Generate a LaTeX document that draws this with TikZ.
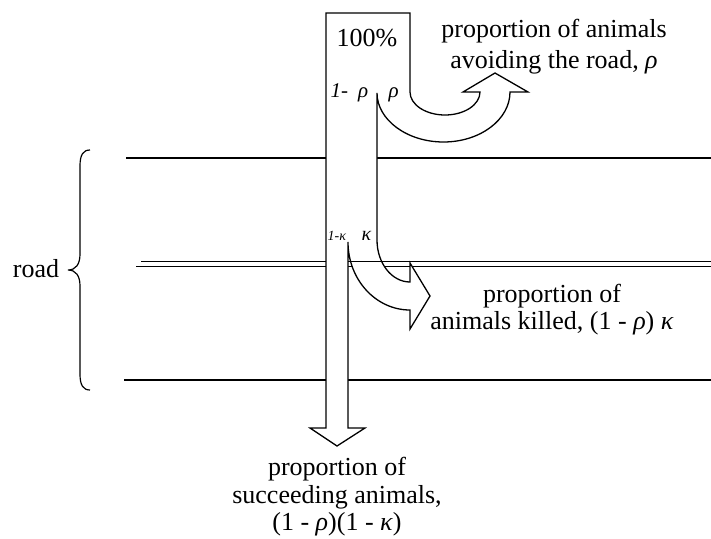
\documentclass[tikz,border=0pt]{standalone}
\usepackage{fontspec}
\setmainfont{Liberation Serif}
\begin{document}
\begin{tikzpicture}[x=1pt,y=-1pt, line width=1.3pt,
  txt/.style={font=\fontsize{26}{28}\selectfont, anchor=base, inner sep=0pt},
  lbl/.style={font=\fontsize{21}{22}\selectfont\itshape, anchor=base west, inner sep=0pt},
  roadline/.style={line width=1.4pt},
  flow/.style={line width=1.3pt, fill=white}]
\useasboundingbox (0,0) rectangle (711,538);
% road edges
\coordinate (rt1) at (126,158); \coordinate (rt2) at (711,158);
\coordinate (rm1) at (141,261.5); \coordinate (rm2) at (711,261.5);
\coordinate (rn1) at (136,266.5); \coordinate (rn2) at (711,266.5);
\coordinate (rb1) at (124,380); \coordinate (rb2) at (711,380);
\draw[roadline] (rt1) -- (rt2);
\draw[roadline] (rm1) -- (rm2);
\draw[roadline] (rn1) -- (rn2);
\draw[roadline] (rb1) -- (rb2);
% brace
\draw[line width=1.2pt] (90,150) .. controls (83,150) and (80,155) .. (80,166) -- (80,254)
  .. controls (80,264) and (76,270) .. (68,270)
  .. controls (76,270) and (80,276) .. (80,286) -- (80,374)
  .. controls (80,385) and (83,390) .. (90,390);
% flow shape
\draw[flow] (326,428) -- (326,13) -- (410,13) -- (410,92)
 .. controls (410,104.7) and (425.7,115) .. (445,115)
 .. controls (464.3,115) and (480,104.7) .. (480,92)
 -- (463,92) -- (495,73) -- (528,92) -- (510,92)
 .. controls (510,119.6) and (480.2,142) .. (443.5,142)
 .. controls (406.8,142) and (377,119.6) .. (377,93)
 -- (377,240)
 .. controls (377,263.2) and (391.8,282) .. (410,282)
 -- (410,263) -- (430,296) -- (410,329) -- (410,310)
 .. controls (375.8,310) and (348,279.6) .. (348,242)
 -- (348,428) -- (365,428) -- (337,446) -- (310,428) -- cycle;
\draw[roadline] (348,261.5) -- (395,261.5);
% labels
\node[txt] (pct) at (367,46) {100\%};
\node[lbl] (omr) at (330,97) {1-\hspace{10pt}ρ};
\node[lbl] (rho) at (388,97) {ρ};
\node[lbl, font=\fontsize{14}{15}\selectfont\itshape] (omk) at (327,240) {1-κ};
\node[lbl, font=\fontsize{20}{21}\selectfont\itshape] (kap) at (361,240) {κ};
\node[txt] (a1) at (554,37) {proportion of animals};
\node[txt] (a2) at (554,68) {avoiding the road, \textit{ρ}};
\node[txt] (k1) at (552,302) {proportion of};
\node[txt] (k2) at (552,329) {animals killed, (1 - \textit{ρ}) \textit{κ}};
\node[txt] (s1) at (337,475) {proportion of};
\node[txt] (s2) at (337,503) {succeeding animals,};
\node[txt] (s3) at (337,530) {(1 - \textit{ρ})(1 - \textit{κ})};
\node[txt] (road) at (36,277) {road};
\end{tikzpicture}
\end{document}
